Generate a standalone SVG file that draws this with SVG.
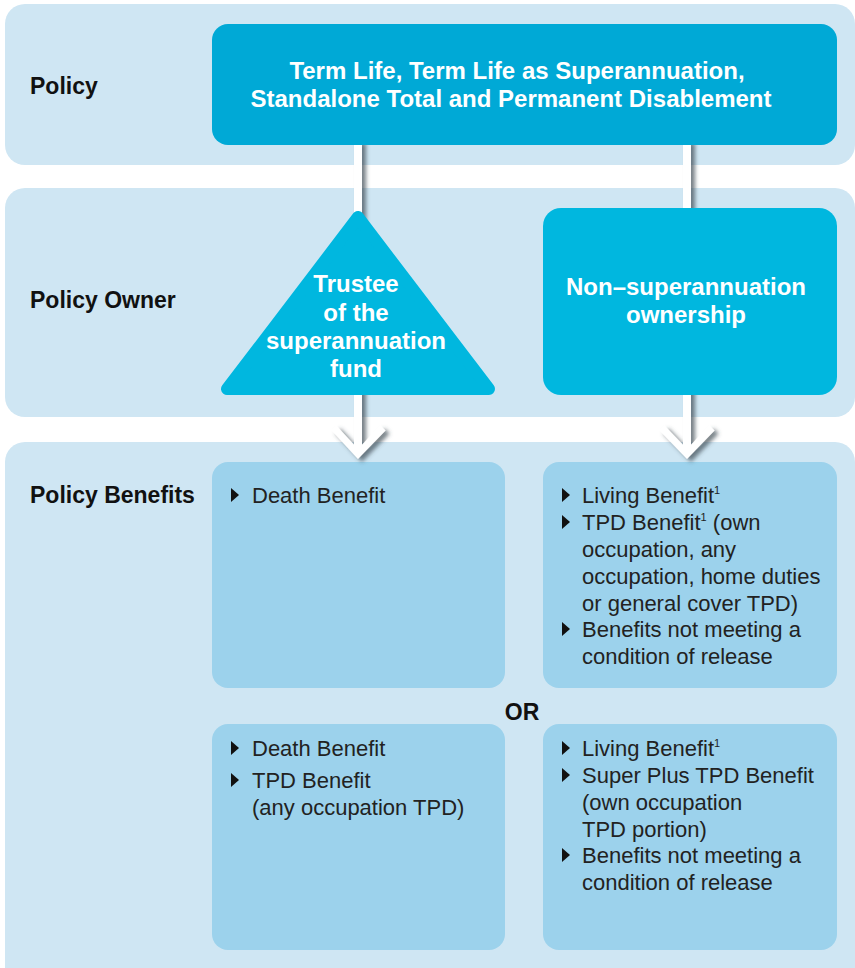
<svg xmlns="http://www.w3.org/2000/svg" width="855" height="968" viewBox="0 0 855 968">
<defs>
<style>
.band{fill:#cfe6f3}
.ben{fill:#9cd2ec}
.lbl{font-family:"Liberation Sans",Arial,sans-serif;font-weight:bold;font-size:23px;fill:#111}
.hd{font-family:"Liberation Sans",Arial,sans-serif;font-weight:bold;font-size:24px;fill:#fff;text-anchor:middle}
.tx{font-family:"Liberation Sans",Arial,sans-serif;font-size:22px;fill:#222}
.sup{font-size:11px}
.bul{fill:#111}
</style>
<filter id="sh" x="-50%" y="-10%" width="200%" height="120%">
<feDropShadow dx="4" dy="3" stdDeviation="2.2" flood-color="#3e4a52" flood-opacity="0.7"/>
</filter>
<polygon id="b" points="0,0 8,7 0,14"/>
</defs>
<rect width="855" height="968" fill="#fff"/>
<g id="bands">
<rect class="band" x="5" y="4" width="850" height="161" rx="20"/>
<rect class="band" x="5" y="188" width="850" height="229" rx="20"/>
<rect class="band" x="5" y="442" width="850" height="546" rx="20"/>
</g>
<g id="row-labels">
<text class="lbl" x="30" y="94">Policy</text>
<text class="lbl" x="30" y="308">Policy Owner</text>
<text class="lbl" x="30" y="503">Policy Benefits</text>
</g>
<g id="benefits-super-a">
<rect class="ben" x="212" y="462" width="293" height="226" rx="16"/>
<use href="#b" x="231" y="488" class="bul"/>
<text class="tx" x="252" y="503">Death Benefit</text>
</g>
<g id="benefits-nonsuper-a">
<rect class="ben" x="543" y="462" width="294" height="226" rx="16"/>
<use href="#b" x="562" y="488" class="bul"/>
<text class="tx" x="582" y="503">Living Benefit<tspan class="sup" dy="-9">1</tspan></text>
<use href="#b" x="562" y="515" class="bul"/>
<text class="tx" x="582" y="530">TPD Benefit<tspan class="sup" dy="-9">1</tspan><tspan dy="9"> (own</tspan></text>
<text class="tx" x="582" y="557">occupation, any</text>
<text class="tx" x="582" y="584">occupation, home duties</text>
<text class="tx" x="582" y="611">or general cover TPD)</text>
<use href="#b" x="562" y="622" class="bul"/>
<text class="tx" x="582" y="637">Benefits not meeting a</text>
<text class="tx" x="582" y="664">condition of release</text>
</g>
<text id="or" class="lbl" x="522" y="720" text-anchor="middle">OR</text>
<g id="benefits-super-b">
<rect class="ben" x="212" y="724" width="293" height="226" rx="16"/>
<use href="#b" x="231" y="741" class="bul"/>
<text class="tx" x="252" y="756">Death Benefit</text>
<use href="#b" x="231" y="773" class="bul"/>
<text class="tx" x="252" y="788">TPD Benefit</text>
<text class="tx" x="252" y="815">(any occupation TPD)</text>
</g>
<g id="benefits-nonsuper-b">
<rect class="ben" x="543" y="724" width="294" height="226" rx="16"/>
<use href="#b" x="562" y="741" class="bul"/>
<text class="tx" x="582" y="756">Living Benefit<tspan class="sup" dy="-9">1</tspan></text>
<use href="#b" x="562" y="768" class="bul"/>
<text class="tx" x="582" y="783">Super Plus TPD Benefit</text>
<text class="tx" x="582" y="810">(own occupation</text>
<text class="tx" x="582" y="837">TPD portion)</text>
<use href="#b" x="562" y="848" class="bul"/>
<text class="tx" x="582" y="863">Benefits not meeting a</text>
<text class="tx" x="582" y="890">condition of release</text>
</g>
<g id="connectors" filter="url(#sh)">
<rect x="354" y="140" width="8" height="312" fill="#fff"/>
<polyline points="334,428 358,454 383,428" fill="none" stroke="#fff" stroke-width="7"/>
<rect x="683" y="140" width="8" height="312" fill="#fff"/>
<polyline points="662,428 687,454 712,428" fill="none" stroke="#fff" stroke-width="7"/>
</g>
<g id="policy">
<rect x="212" y="24" width="625" height="121" rx="16" fill="#00a9d6"/>
<text class="hd" x="517" y="79">Term Life, Term Life as Superannuation,</text>
<text class="hd" x="511" y="107">Standalone Total and Permanent Disablement</text>
</g>
<g id="trustee">
<polygon points="358,217 227,389 489,389" fill="#00b7df" stroke="#00b7df" stroke-width="12" stroke-linejoin="round"/>
<text class="hd" x="356" y="292">Trustee</text>
<text class="hd" x="356" y="321">of the</text>
<text class="hd" x="356" y="349">superannuation</text>
<text class="hd" x="356" y="377">fund</text>
</g>
<g id="nonsuper">
<rect x="543" y="208" width="294" height="187" rx="18" fill="#00b7df"/>
<text class="hd" x="686" y="295">Non–superannuation</text>
<text class="hd" x="686" y="323">ownership</text>
</g>
</svg>
